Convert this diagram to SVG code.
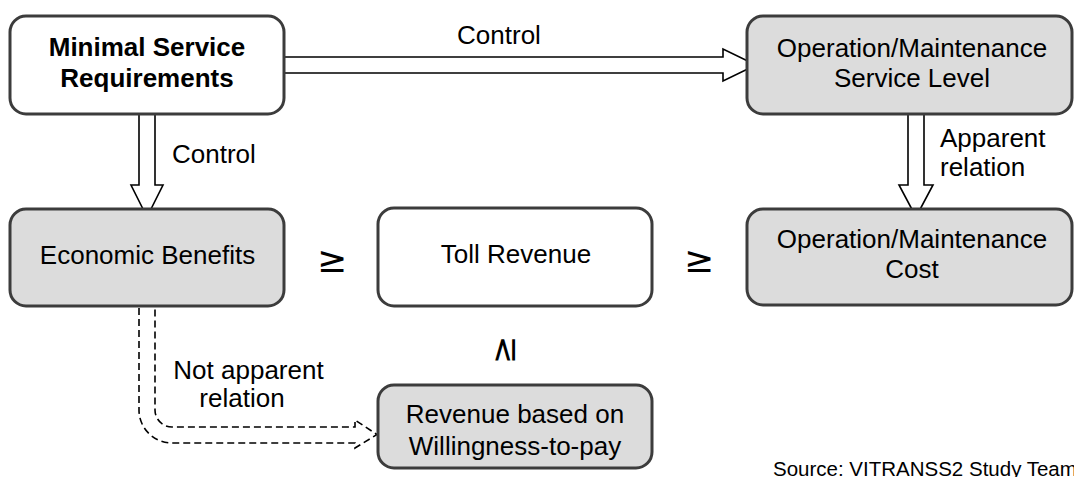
<svg xmlns="http://www.w3.org/2000/svg" width="1074" height="477" viewBox="0 0 1074 477">
<style>
.box{stroke:#3c3c3c;stroke-width:3}
.w{fill:#ffffff}
.g{fill:#dcdcdc}
text{font-family:"Liberation Sans",Arial,sans-serif;font-size:26px;fill:#000}
.c{text-anchor:middle}
.b{font-weight:bold}
.arr{fill:#ffffff;stroke:#000;stroke-width:1.6;stroke-linejoin:miter}
.dash{fill:none;stroke:#000;stroke-width:1.6;stroke-dasharray:7 4}
.sym{font-family:"DejaVu Sans",sans-serif;font-size:36px;text-anchor:middle}
</style>
<rect width="1074" height="477" fill="#ffffff"/>
<g id="connectors">
<path class="arr" d="M284,57 H723 V49 L756,65 L723,81 V73 H284"/>
<path class="arr" d="M139,115 V185 H131 L147,217 L163,185 H155 V115"/>
<path class="arr" d="M908,115 V185 H899 L916,217 L933,185 H924 V115"/>
<path class="dash" d="M139,308 V410 A33,33 0 0 0 172,443 H355 V448 L377,434.5 L355,420 V427 H172 A17,17 0 0 1 155,410 V308"/>
</g>
<g id="msr">
<rect class="box w" x="10" y="16" width="274" height="98" rx="16"/>
<text class="c b" x="147" y="56">Minimal Service</text>
<text class="c b" x="147" y="87">Requirements</text>
</g>
<g id="osl">
<rect class="box g" x="747" y="16" width="325" height="98" rx="16"/>
<text class="c" x="912" y="57">Operation/Maintenance</text>
<text class="c" x="912" y="87">Service Level</text>
</g>
<g id="eb">
<rect class="box g" x="10" y="209" width="274" height="97" rx="16"/>
<text class="c" x="147.5" y="264">Economic Benefits</text>
</g>
<g id="tr">
<rect class="box w" x="378" y="208" width="274" height="98" rx="16"/>
<text class="c" x="516" y="263">Toll Revenue</text>
</g>
<g id="omc">
<rect class="box g" x="747" y="209" width="325" height="96" rx="16"/>
<text class="c" x="912" y="248">Operation/Maintenance</text>
<text class="c" x="912" y="278">Cost</text>
</g>
<g id="rwtp">
<rect class="box g" x="378" y="385" width="274" height="83" rx="16"/>
<text class="c" x="515" y="423">Revenue based on</text>
<text class="c" x="515" y="455">Willingness-to-pay</text>
</g>
<g id="labels">
<text class="c" x="499" y="44">Control</text>
<text x="172" y="163">Control</text>
<text x="940" y="147">Apparent</text>
<text x="940" y="176">relation</text>
<text class="c" x="248.5" y="379">Not apparent</text>
<text class="c" x="242" y="407">relation</text>
<text class="sym" x="332" y="272">≥</text>
<text class="sym" x="699" y="272">≥</text>
<text class="sym" x="504" y="360.5" style="font-size:34px" transform="rotate(-90 504 350)">≥</text>
<text x="773" y="476" style="font-size:20.5px">Source: VITRANSS2 Study Team</text>
</g>
</svg>
